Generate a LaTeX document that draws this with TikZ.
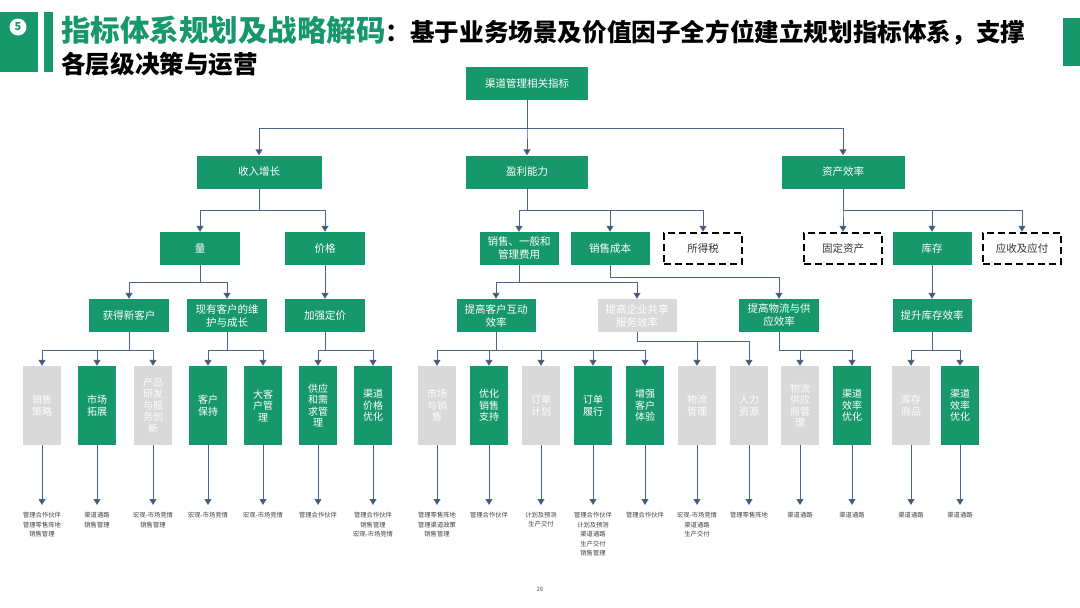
\documentclass[tikz,border=0pt]{standalone}
\usepackage{fontspec}
\setmainfont{Noto Sans CJK SC}
\usetikzlibrary{arrows.meta}
\definecolor{G}{HTML}{17986A}
\definecolor{GR}{HTML}{D9D9D9}
\definecolor{LN}{HTML}{4A6684}
\definecolor{AH}{HTML}{3A5674}
\begin{document}
\begin{tikzpicture}[x=1pt,y=-1pt,
  box/.style={fill=G, text=white, inner sep=0pt, align=center, minimum height=33pt,
    font=\fontsize{10.5}{13}\selectfont},
  gbox/.style={box, fill=GR, text=white},
  dbox/.style={box, fill=white, text=black!80, draw=black, line width=2.5pt,
    dash pattern=on 7pt off 4pt},
  leaf/.style={fill=G, text=white, inner sep=0pt, align=center, minimum width=38pt,
    minimum height=79pt, font=\fontsize{10}{11.5}\selectfont},
  leafg/.style={leaf, fill=GR, text=white!96!GR},
  note/.style={font=\fontsize{6.3}{9.5}\selectfont, text=black!75, align=center,
    inner xsep=0pt, inner ysep=7pt, anchor=north},
  conn/.style={draw=LN, line width=1pt, -{Triangle[width=7pt,length=6pt,fill=AH]}},
  bar/.style={draw=LN, line width=1pt}
]
\useasboundingbox (0,0) rectangle (1080,608);
% ---- title ----
\fill[G] (0,12) rectangle (38,72);
\fill[G] (44,12) rectangle (53,72);
\fill[G] (1063,18) rectangle (1080,66);
\node[circle, fill=white, inner sep=0pt, minimum size=17pt, text=G,
  font=\fontsize{11}{11}\bfseries] (num) at (18,27) {5};
\node[anchor=base west, inner sep=0pt] (t1) at (61,41)
  {{\color{G}\fontsize{29.5}{32}\bfseries 指标体系规划及战略解码}{\fontsize{24.6}{27}\bfseries ：基于业务场景及价值因子全方位建立规划指标体系，支撑}};
\node[anchor=base west, inner sep=0pt, font=\fontsize{24.6}{27}\bfseries] (t2) at (61,73) {各层级决策与运营};
% ---- level 0 / 1 ----
\node[box, minimum width=122pt] (top) at (527,83) {渠道管理相关指标};
\node[box, minimum width=125pt] (sr) at (259,172) {收入增长};
\node[box, minimum width=122pt] (yl) at (527,172) {盈利能力};
\node[box, minimum width=123pt] (zc) at (843,172) {资产效率};
% ---- level 2 ----
\node[box, minimum width=80pt] (q) at (200,248.5) {量};
\node[box, minimum width=80pt] (jg) at (325,248.5) {价格};
\node[box, minimum width=79pt] (xs) at (519,248.5) {销售、一般和\\管理费用};
\node[box, minimum width=79pt] (cb) at (610,248.5) {销售成本};
\node[dbox, minimum width=78pt, minimum height=31pt] (sds) at (703,248.5) {所得税};
\node[dbox, minimum width=78pt, minimum height=31pt] (gd) at (843,248.5) {固定资产};
\node[box, minimum width=79pt] (kc) at (932,248.5) {库存};
\node[dbox, minimum width=78pt, minimum height=31pt] (ys) at (1022,248.5) {应收及应付};
% ---- level 3 ----
\node[box, minimum width=80pt] (a) at (129,315.5) {获得新客户};
\node[box, minimum width=80pt] (b) at (227,315.5) {现有客户的维\\护与成长};
\node[box, minimum width=80pt] (c) at (325,315.5) {加强定价};
\node[box, minimum width=79pt] (d) at (496,315.5) {提高客户互动\\效率};
\node[gbox, minimum width=79pt] (e) at (637,315.5) {提高企业共享\\服务效率};
\node[box, minimum width=80pt] (f) at (779,315.5) {提高物流与供\\应效率};
\node[box, minimum width=79pt] (g) at (932,315.5) {提升库存效率};
% ---- connectors level 0-3 ----
\foreach \k in {sr,yl,zc} \draw[conn] (top.south) -- (top.south|-0,128) -| (\k.north);
\foreach \k in {q,jg} \draw[conn] (sr.south) -- (sr.south|-0,210) -| (\k.north);
\foreach \k in {xs,cb,sds} \draw[conn] (yl.south) -- (yl.south|-0,210) -| (\k.north);
\foreach \k in {gd,kc,ys} \draw[conn] (zc.south) -- (zc.south|-0,210) -| (\k.north);
\foreach \k in {a,b} \draw[conn] (q.south) -- (q.south|-0,282) -| (\k.north);
\draw[conn] (jg.south) -- (c.north);
\foreach \k in {d,e} \draw[conn] (xs.south) -- (xs.south|-0,282) -| (\k.north);
\draw[conn] (cb.south) -- (cb.south|-0,277) -| (f.north);
\draw[conn] (kc.south) -- (g.north);
% ---- leaves ----
\foreach \n/\x/\s/\t/\m in {
 1/42/leafg/{销售\\策略}/{管理合作伙伴\\管理零售阵地\\销售管理},
 2/97/leaf/{市场\\拓展}/{渠道通路\\销售管理},
 3/153/leafg/{产品\\研发\\与服\\务创\\新}/{宏观-市场竞情\\销售管理},
 4/208/leaf/{客户\\保持}/{宏观-市场竞情},
 5/263/leaf/{大客\\户管\\理}/{宏观-市场竞情},
 6/318/leaf/{供应\\和需\\求管\\理}/{管理合作伙伴},
 7/373/leaf/{渠道\\价格\\优化}/{管理合作伙伴\\销售管理\\宏观-市场竞情},
 8/437/leafg/{市场\\与销\\售}/{管理零售阵地\\管理渠道政策\\销售管理},
 9/489/leaf/{优化\\销售\\支持}/{管理合作伙伴},
 10/541/leafg/{订单\\计划}/{计划及预测\\生产交付},
 11/593/leaf/{订单\\履行}/{管理合作伙伴\\计划及预测\\渠道通路\\生产交付\\销售管理},
 12/645/leaf/{增强\\客户\\体验}/{管理合作伙伴},
 13/697/leafg/{物流\\管理}/{宏观-市场竞情\\渠道通路\\生产交付},
 14/749/leafg/{人力\\资源}/{管理零售阵地},
 15/800/leafg/{物流\\供应\\商管\\理}/{渠道通路},
 16/852/leaf/{渠道\\效率\\优化}/{渠道通路},
 17/911/leafg/{库存\\商品}/{渠道通路},
 18/960/leaf/{渠道\\效率\\优化}/{渠道通路}}
{
  \node[\s] (L\n) at (\x,405.5) {\t};
  \node[note] (N\n) at (\x,505) {\m};
  \draw[conn] (L\n.south) -- (N\n.north);
}
% ---- connectors level 3-4 ----
\foreach \k in {1,2,3} \draw[conn] (a.south) -- (a.south|-0,350) -| (L\k.north);
\foreach \k in {4,5} \draw[conn] (b.south) -- (b.south|-0,350) -| (L\k.north);
\foreach \k in {6,7} \draw[conn] (c.south) -- (c.south|-0,350) -| (L\k.north);
\foreach \k in {8,9,10,11,12} \draw[conn] (d.south) -- (d.south|-0,350) -| (L\k.north);
\foreach \k in {13,14} \draw[conn] (e.south) -- (e.south|-0,341) -| (L\k.north);
\foreach \k in {15,16} \draw[conn] (f.south) -- (f.south|-0,350) -| (L\k.north);
\foreach \k in {17,18} \draw[conn] (g.south) -- (g.south|-0,350) -| (L\k.north);
% ---- page number ----
\node[font=\fontsize{6}{7}\selectfont, text=black!70] (pg) at (540,589) {26};
\end{tikzpicture}
\end{document}
